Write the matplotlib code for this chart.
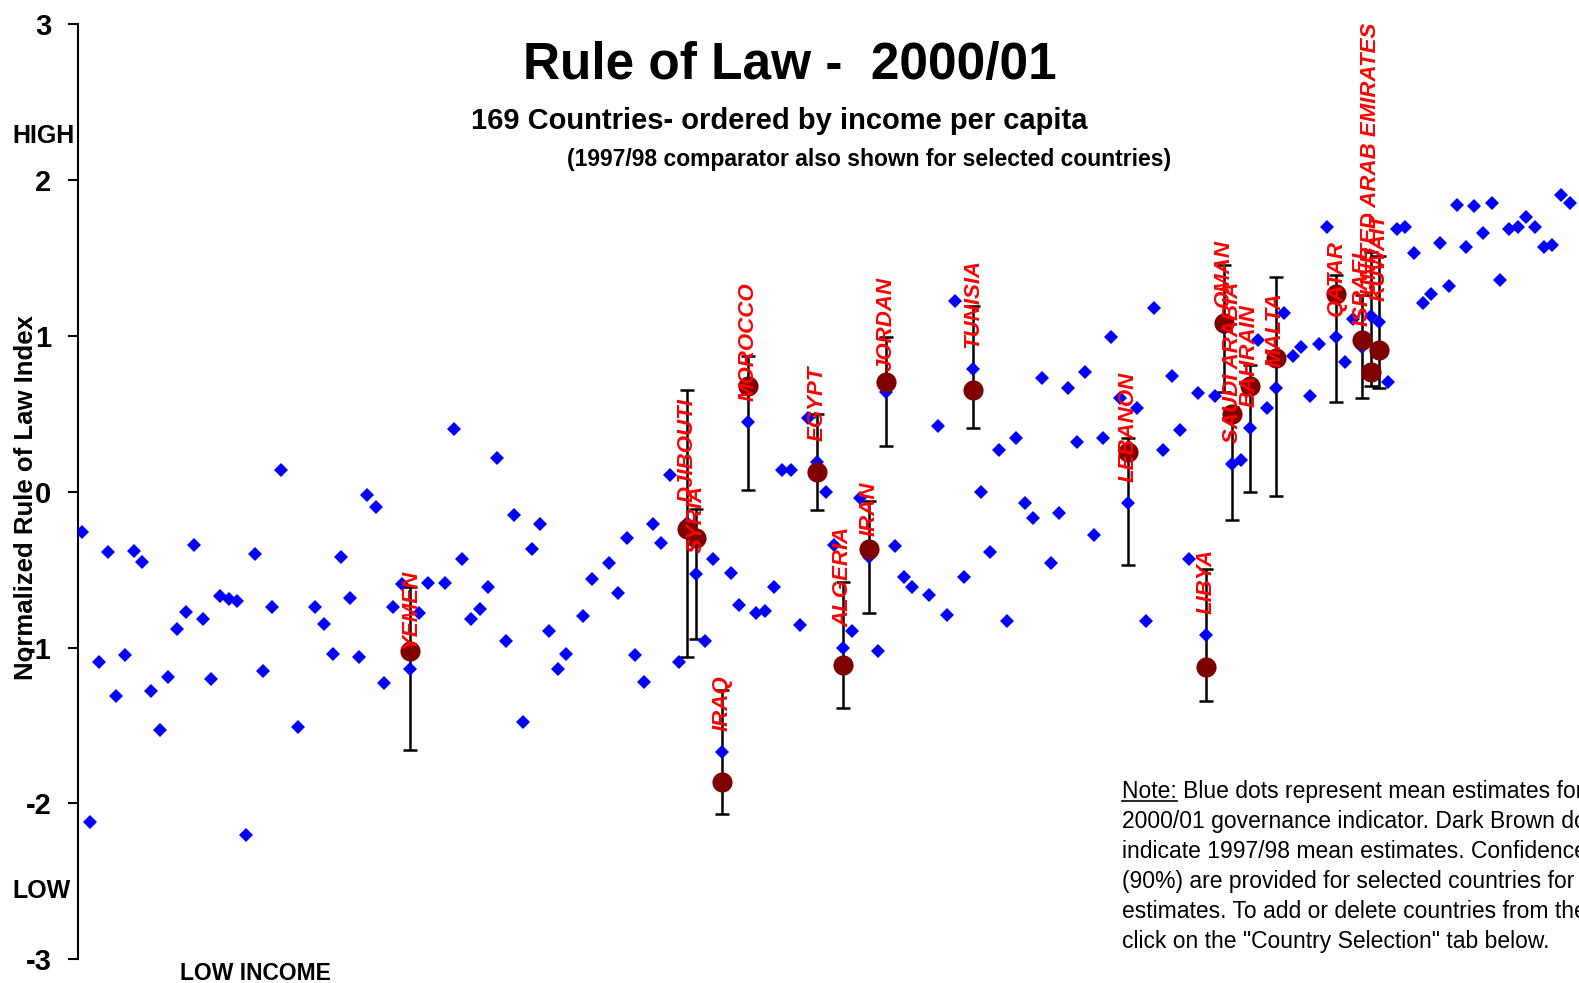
import numpy as np
import matplotlib
matplotlib.use("Agg")
import matplotlib.pyplot as plt
from matplotlib.lines import Line2D

plt.rcParams['font.family'] = ['Liberation Sans', 'DejaVu Sans']
plt.rcParams['axes.unicode_minus'] = False

# 2000/01 rule of law estimate, countries ordered by income (None = no point shown)
rule_2000 = [
    -0.26, -2.12, -1.09, -0.39, -1.31, -1.05, -0.38, -0.45, -1.28, -1.53,
    -1.19, -0.88, -0.77, -0.34, -0.82, -1.20, -0.67, -0.69, -0.70, -2.20,
    -0.40, -1.15, -0.74, 0.14, None, -1.51, None, -0.74, -0.85, -1.04,
    -0.42, -0.68, -1.06, -0.02, -0.10, -1.23, -0.74, -0.59, -1.14, -0.78,
    -0.585, None, -0.585, 0.40, -0.43, -0.82, -0.75, -0.61, 0.215, -0.96,
    -0.15, -1.475, -0.37, -0.21, -0.895, -1.14, -1.04, None, -0.80, -0.56,
    None, -0.456, -0.65, -0.30, -1.05, -1.22, -0.21, -0.33, 0.11, -1.09,
    -0.20, -0.53, -0.96, -0.43, -1.67, -0.52, -0.73, 0.447, -0.78, -0.766,
    -0.61, 0.137, 0.137, -0.856, 0.47, 0.19, -0.005, -0.34, -1.0, -0.895,
    -0.043, -0.42, -1.02, 0.64, -0.35, -0.55, -0.61, None, -0.66, 0.42,
    -0.79, 1.22, -0.55, 0.79, -0.005, -0.39, 0.266, -0.83, 0.344, -0.07,
    -0.17, 0.73, -0.456, -0.134, 0.667, 0.318, 0.77, -0.275, 0.344, 0.99,
    0.60, -0.07, 0.537, -0.83, 1.18, 0.266, 0.744, 0.395, -0.43, 0.63,
    -0.92, 0.615, 1.05, 0.176, 0.20, 0.41, 0.976, 0.537, 0.667, 1.144,
    0.873, 0.925, 0.615, 0.95, 1.70, 0.99, 0.834, 1.105, 0.93, 1.13,
    1.09, 0.705, 1.686, 1.70, 1.53, 1.21, 1.27, 1.595, 1.32, 1.84,
    1.57, 1.83, 1.66, 1.85, 1.36, 1.686, 1.70, 1.76, 1.70, 1.57,
    1.58, 1.905, 1.85,
]

# selected countries
sel_names = ["YEMEN", "DJIBOUTI", "SYRIA", "IRAQ", "MOROCCO", "EGYPT", "ALGERIA",
             "IRAN", "JORDAN", "TUNISIA", "LEBANON", "LIBYA", "OMAN", "SAUDI ARABIA",
             "BAHRAIN", "MALTA", "QATAR", "ISRAEL", "UNITED ARAB EMIRATES", "KUWAIT"]
sel_rank = [39, 71, 72, 75, 78, 86, 89, 92, 94, 104, 122, 131, 133, 134, 136, 139,
            146, 149, 150, 151]
rule_1997 = [-1.02, -0.24, -0.30, -1.86, 0.68, 0.125, -1.11, -0.366, 0.705, 0.65,
             0.256, -1.127, 1.08, 0.50, 0.675, 0.86, 1.27, 0.97, 0.77, 0.91]
ci_low = [-1.66, -1.06, -0.946, -2.07, 0.008, -0.12, -1.39, -0.78, 0.29, 0.41,
          -0.47, -1.346, 0.64, -0.185, -0.005, -0.03, 0.576, 0.60, 0.68, 0.667]
ci_high = [-0.61, 0.654, -0.114, -1.27, 0.87, 0.50, -0.58, -0.06, 0.99, 1.19,
           0.344, -0.495, 1.456, 0.54, 0.81, 1.376, 1.39, 1.26, 1.54, 1.51]

note_lines = [
    "Note: Blue dots represent mean estimates for the",
    "2000/01 governance indicator. Dark Brown dots",
    "indicate 1997/98 mean estimates. Confidence intervals",
    "(90%) are provided for selected countries for 2000/01",
    "estimates. To add or delete countries from the chart,",
    'click on the "Country Selection" tab below.',
]

W, H = 1579, 983
fig = plt.figure(figsize=(W / 100, H / 100), dpi=100)


def fx(px):
    return px / W


def fy(py):
    return 1 - py / H


ax = fig.add_axes([fx(77.7), fy(959.3), 1 - fx(77.7), fy(24) - fy(959.3)])

vals = np.array(rule_2000, dtype=float)
rank = np.arange(1, len(vals) + 1)
sel_rank = np.array(sel_rank)
blue_sel = vals[sel_rank - 1]
lo = blue_sel - np.array(ci_low)
hi = np.array(ci_high) - blue_sel

ax.errorbar(sel_rank, blue_sel, yerr=[lo, hi], fmt='none', ecolor='black',
            elinewidth=1.8, capsize=5, capthick=1.8, zorder=2)
ax.plot(rank, vals, 'D', color='#0000ff', ms=7.5, mew=0, zorder=3)
ax.plot(sel_rank, rule_1997, 'o', color='#7f0000', ms=14.5, mew=0, zorder=4)

for name, r, b in zip(sel_names, sel_rank, blue_sel):
    ax.annotate(name, (r, b), xytext=(0, 15), textcoords='offset points',
                rotation=90, ha='center', va='bottom', color='red',
                fontsize=16, fontstyle='italic', fontweight='bold', zorder=5)

ax.set_xlim(0.5376, 174.08)
ax.set_ylim(-3, 3)
for s in ['top', 'right', 'bottom']:
    ax.spines[s].set_visible(False)
ax.spines['left'].set_linewidth(1.5)
ax.set_xticks([])
ax.set_yticks(range(-3, 4))
ax.tick_params(axis='y', length=7, width=1.5, pad=12, labelsize=21)
for lbl in ax.get_yticklabels():
    lbl.set_fontweight('bold')

# titles
fig.text(fx(790), fy(79), "Rule of Law -  2000/01", ha='center', va='baseline',
         fontsize=37, fontweight='bold')
fig.text(fx(779), fy(129), "169 Countries- ordered by income per capita",
         ha='center', va='baseline', fontsize=21, fontweight='bold')
fig.text(fx(869), fy(166), "(1997/98 comparator also shown for selected countries)",
         ha='center', va='baseline', fontsize=16.5, fontweight='bold')

fig.text(fx(12), fy(136), "HIGH", ha='left', va='center', fontsize=18, fontweight='bold')
fig.text(fx(12), fy(891), "LOW", ha='left', va='center', fontsize=18, fontweight='bold')
fig.text(fx(180), fy(980), "LOW INCOME", ha='left', va='baseline', fontsize=16.5,
         fontweight='bold')
fig.text(fx(26), fy(498), "Normalized Rule of Law Index", rotation=90, ha='center',
         va='center', fontsize=18.5, fontweight='bold')

# note text (runs off the right edge as in the original)
for i, line in enumerate(note_lines):
    fig.text(fx(1122), fy(798 + 30 * i), line, ha='left', va='baseline', fontsize=16.5)

# underline "Note:"
renderer = fig.canvas.get_renderer()
tmp = fig.text(fx(1122), fy(798), "Note:", ha='left', va='baseline', fontsize=16.5)
ext = tmp.get_window_extent(renderer)
tmp.remove()
fig.add_artist(Line2D([fx(1122), ext.x1 / W], [fy(801), fy(801)],
                      transform=fig.transFigure, color='black', lw=1.2))

fig.savefig("out.png", dpi=100)
